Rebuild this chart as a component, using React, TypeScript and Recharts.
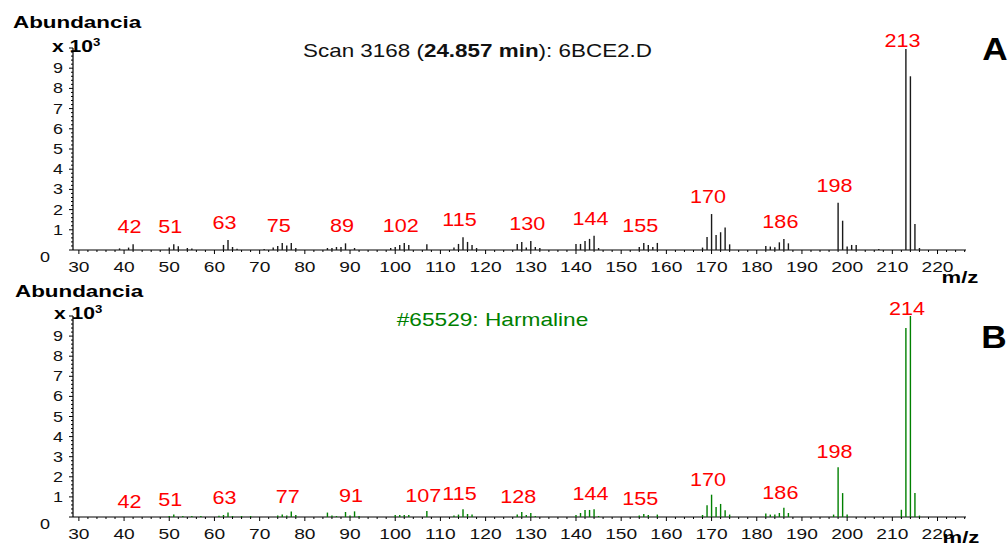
import React from 'react';
import { ComposedChart, Scatter, XAxis, YAxis } from 'recharts';

const FONT = "'Liberation Sans', Arial, Helvetica, sans-serif";

// ---- Panel A: sample spectrum (Scan 3168) ----
const topMz = [
  39, 41, 42, 50, 51, 52, 54, 55, 62, 63, 64, 65,
  71, 73, 74, 75, 76, 77, 78, 85, 86, 87, 88, 89, 91,
  99, 100, 101, 102, 103, 107, 113, 114, 115, 116, 117, 118,
  127, 128, 129, 130, 131, 132, 140, 141, 142, 143, 144, 145,
  154, 155, 156, 157, 158, 168, 169, 170, 171, 172, 173, 174,
  182, 183, 184, 185, 186, 187, 198, 199, 200, 201, 202, 207,
  213, 214, 215, 216,
];
const topAbund = [
  0.08, 0.12, 0.28, 0.12, 0.28, 0.18, 0.1, 0.08, 0.25, 0.5, 0.15, 0.06,
  0.05, 0.12, 0.2, 0.35, 0.22, 0.35, 0.1, 0.1, 0.1, 0.15, 0.15, 0.33, 0.1,
  0.1, 0.15, 0.25, 0.35, 0.25, 0.28, 0.12, 0.3, 0.63, 0.4, 0.25, 0.1,
  0.3, 0.4, 0.12, 0.45, 0.15, 0.1, 0.3, 0.3, 0.45, 0.55, 0.7, 0.1,
  0.15, 0.35, 0.25, 0.15, 0.35, 0.12, 0.64, 1.78, 0.74, 0.88, 1.12, 0.28,
  0.2, 0.17, 0.13, 0.38, 0.54, 0.33, 2.34, 1.45, 0.17, 0.25, 0.25, 0.05,
  9.95, 8.6, 1.29, 0.1,
];
const topLabels = [42, 51, 63, 75, 89, 102, 115, 130, 144, 155, 170, 186, 198, 213];

// ---- Panel B: library spectrum (#65529 Harmaline) ----
const botMz = [
  50, 51, 53, 55, 57, 61, 62, 63, 64, 66, 68,
  74, 75, 76, 77, 78, 85, 86, 87, 89, 90, 91, 92,
  100, 101, 102, 103, 107, 113, 114, 115, 116, 117,
  127, 128, 129, 130, 131, 140, 141, 142, 143, 144, 145,
  154, 155, 156, 158, 168, 169, 170, 171, 172, 173, 174,
  182, 183, 184, 185, 186, 187, 197, 198, 199, 200,
  212, 213, 214, 215, 216,
];
const botAbund = [
  0.05, 0.12, 0.05, 0.05, 0.05, 0.06, 0.1, 0.22, 0.05, 0.05, 0.05,
  0.08, 0.12, 0.08, 0.27, 0.1, 0.22, 0.08, 0.05, 0.25, 0.08, 0.28, 0.05,
  0.1, 0.1, 0.1, 0.1, 0.3, 0.08, 0.12, 0.38, 0.15, 0.12,
  0.12, 0.25, 0.1, 0.2, 0.05, 0.1, 0.2, 0.35, 0.35, 0.38, 0.05,
  0.08, 0.15, 0.1, 0.12, 0.1, 0.58, 1.11, 0.5, 0.65, 0.33, 0.12,
  0.17, 0.12, 0.12, 0.2, 0.46, 0.2, 0.12, 2.47, 1.19, 0.12,
  0.36, 9.4, 10.0, 1.19, 0.07,
];
const botLabels = [42, 51, 63, 77, 91, 107, 115, 128, 144, 155, 170, 186, 198, 214];

// ---- Axes ----
const xMajorTicks = [30, 40, 50, 60, 70, 80, 90, 100, 110, 120, 130, 140, 150, 160, 170, 180, 190, 200, 210, 220];
const xTicks = Array.from({ length: 99 }, (_, i) => 30 + i * 2);
const yMajorTicks = [0, 1, 2, 3, 4, 5, 6, 7, 8, 9];
const yTicks = Array.from({ length: 51 }, (_, i) => i / 5);
const xDomain: [number, number] = [28.7, 226.3];

const toRows = (mz: number[], ab: number[]) => mz.map((m, i) => ({ mz: m, ab: ab[i] }));
const labelRows = (labels: number[], mz: number[], ab: number[]) =>
  labels.map((l) => {
    const i = mz.indexOf(l);
    return { mz: l, ab: i >= 0 ? ab[i] : 0, label: String(l) };
  });

const XTick = (props: any) => {
  const { x, y, payload } = props;
  const v = payload.value;
  const major = xMajorTicks.includes(v);
  return (
    <g>
      <line x1={x} x2={x} y1={y} y2={y + (major ? 4 : 2)} stroke="#000" strokeWidth={1} />
      {major && (
        <text
          transform={`translate(${x},${y + 21.5}) scale(1.28,1)`}
          textAnchor="middle"
          fontSize={15}
          fill="#111"
          fontFamily={FONT}
        >
          {v}
        </text>
      )}
    </g>
  );
};

const YTick = (props: any) => {
  const { x, y, payload } = props;
  const v = payload.value;
  const r = Math.round(v);
  const major = Math.abs(v - r) < 1e-6;
  const showLabel = major && yMajorTicks.includes(r);
  return (
    <g>
      <line x1={x - (major ? 4 : 2)} x2={x} y1={y} y2={y} stroke="#000" strokeWidth={1} />
      {showLabel &&
        (r === 0 ? (
          <text transform={`translate(${x - 23},${y + 12}) scale(1.2,1)`} textAnchor="end" fontSize={15} fill="#111" fontFamily={FONT}>
            0
          </text>
        ) : (
          <text transform={`translate(${x - 10},${y + 5}) scale(1.2,1)`} textAnchor="end" fontSize={15} fill="#111" fontFamily={FONT}>
            {r}
          </text>
        ))}
    </g>
  );
};

type PanelProps = {
  top: number;
  height: number;
  marginTop: number;
  xAxisHeight: number;
  peaks: { mz: number; ab: number }[];
  labels: { mz: number; ab: number; label: string }[];
  color: string;
  labelGap: number;
};

const Panel = ({ top, height, marginTop, xAxisHeight, peaks, labels, color, labelGap }: PanelProps) => {
  const baseY = height - xAxisHeight;
  const clampY = marginTop - 1;
  return (
    <div style={{ position: 'absolute', left: 0, top, width: 1008, height }}>
      <ComposedChart width={1008} height={height} margin={{ top: marginTop, right: 42, bottom: 0, left: 33 }}>
        <XAxis
          type="number"
          dataKey="mz"
          domain={xDomain}
          ticks={xTicks}
          interval={0}
          tickLine={false}
          tickSize={0}
          tickMargin={0}
          height={xAxisHeight}
          axisLine={{ stroke: '#000', strokeWidth: 1.2 }}
          tick={(p: any) => <XTick {...p} />}
        />
        <YAxis
          type="number"
          dataKey="ab"
          domain={[0, 10]}
          ticks={yTicks}
          interval={0}
          width={40}
          tickLine={false}
          tickSize={0}
          tickMargin={0}
          axisLine={{ stroke: '#000', strokeWidth: 1.2 }}
          tick={(p: any) => <YTick {...p} />}
        />
        <Scatter
          data={peaks}
          dataKey="ab"
          isAnimationActive={false}
          shape={(p: any) => (
            <line x1={p.cx} x2={p.cx} y1={p.cy} y2={baseY} stroke={color} strokeWidth={1.4} />
          )}
        />
        <Scatter
          data={labels}
          dataKey="ab"
          isAnimationActive={false}
          shape={(p: any) => (
            <text
              transform={`translate(${p.cx - 3.5},${Math.max(p.cy - labelGap, clampY)}) scale(1.2,1)`}
              textAnchor="middle"
              fontSize={18}
              fill="#ff0000"
              fontFamily={FONT}
            >
              {p.payload.label}
            </text>
          )}
        />
      </ComposedChart>
    </div>
  );
};

const St = ({ x, y, sx, size, weight, fill = '#000', anchor = 'start', children }: any) => (
  <text
    transform={`translate(${x},${y}) scale(${sx},1)`}
    fontSize={size}
    fontWeight={weight}
    fill={fill}
    textAnchor={anchor}
    fontFamily={FONT}
  >
    {children}
  </text>
);

export default function App() {
  return (
    <div style={{ position: 'absolute', left: 0, top: 0, width: 1008, height: 549, background: '#fff', overflow: 'hidden' }}>
      <Panel
        top={0}
        height={280}
        marginTop={48}
        xAxisHeight={30}
        peaks={toRows(topMz, topAbund)}
        labels={labelRows(topLabels, topMz, topAbund)}
        color="#1a1a1a"
        labelGap={11}
      />
      <Panel
        top={280}
        height={269}
        marginTop={36}
        xAxisHeight={32}
        peaks={toRows(botMz, botAbund)}
        labels={labelRows(botLabels, botMz, botAbund)}
        color="#008000"
        labelGap={9}
      />
      <svg width={1008} height={549} style={{ position: 'absolute', left: 0, top: 0, pointerEvents: 'none' }}>
        <St x={13} y={28} sx={1.4} size={16} weight="bold">Abundancia</St>
        <St x={52} y={52} sx={1.32} size={16} weight="bold">
          x 10<tspan fontSize={10} dy={-6}>3</tspan>
        </St>
        <St x={477.5} y={57} sx={1.246} size={18} anchor="middle" fill="#111">
          Scan 3168 (<tspan fontWeight="bold">24.857 min</tspan>): 6BCE2.D
        </St>
        <St x={995} y={60} sx={1.1} size={32} weight="bold" anchor="middle">A</St>
        <St x={960} y={283} sx={1.38} size={16} weight="bold" anchor="middle">m/z</St>

        <St x={15} y={297} sx={1.4} size={16} weight="bold">Abundancia</St>
        <St x={54} y={319} sx={1.32} size={16} weight="bold">
          x 10<tspan fontSize={10} dy={-6}>3</tspan>
        </St>
        <St x={492.5} y={326} sx={1.26} size={18} anchor="middle" fill="#008000">
          #65529: Harmaline
        </St>
        <St x={994} y={348} sx={1.1} size={32} weight="bold" anchor="middle">B</St>
        <St x={961} y={543} sx={1.38} size={16} weight="bold" anchor="middle">m/z</St>
      </svg>
    </div>
  );
}
